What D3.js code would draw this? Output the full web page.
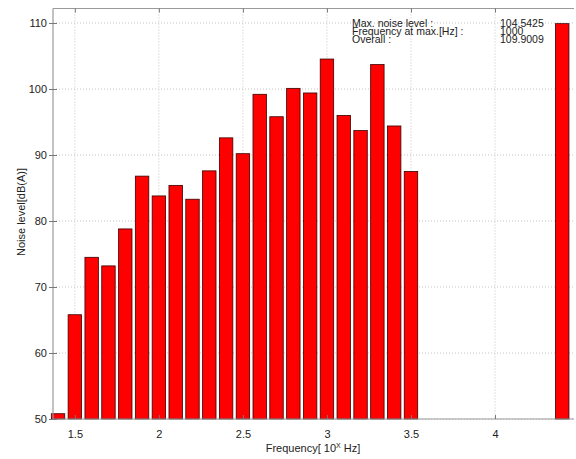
<!DOCTYPE html>
<html>
<head>
<meta charset="utf-8">
<script src="https://cdn.jsdelivr.net/npm/d3@7"></script>
<style>
  body { margin: 0; background: #fff; }
  svg text { font-family: "Liberation Sans", Arial, sans-serif; fill: #222; }
</style>
</head>
<body>
<svg id="chart" width="576" height="459"></svg>
<script>
// 1/3-octave band centres (log10 of Hz) and levels in dB(A)
const bandFreqs = [1.4, 1.5, 1.6, 1.7, 1.8, 1.9, 2.0, 2.1, 2.2, 2.3, 2.4,
                   2.5, 2.6, 2.7, 2.8, 2.9, 3.0, 3.1, 3.2, 3.3, 3.4, 3.5];
const bandLevels = [50.8, 65.8, 74.5, 73.2, 78.8, 86.8, 83.8, 85.4, 83.3, 87.6, 92.6,
                    90.2, 99.2, 95.8, 100.1, 99.4, 104.5425, 96.0, 93.7, 103.7, 94.4, 87.5];
const overallPos = 4.4;
const overallLevel = 109.9009;

const xTicks = [1.5, 2, 2.5, 3, 3.5, 4];
const yTicks = [50, 60, 70, 80, 90, 100, 110];

const infoLabels = ["Max. noise level :", "Frequency at max.[Hz] :", "Overall :"];
const infoValues = ["104.5425", "1000", "109.9009"];

const svg = d3.select("#chart");
const mLeft = 53, mRight = 574, mTop = 8.5, mBottom = 419;

const x = d3.scaleLinear().domain([1.37, 4.47]).range([mLeft, mRight]);
const y = d3.scaleLinear().domain([50, 112.2]).range([mBottom, mTop]);

const bars = bandFreqs.map((f, i) => ({ x: f, v: bandLevels[i] }));
bars.push({ x: overallPos, v: overallLevel });

// grid
const grid = svg.append("g").attr("stroke", "#c4c4c4").attr("stroke-dasharray", "1,2").attr("stroke-width", 1);
grid.selectAll(".gx").data(xTicks).enter().append("line")
    .attr("x1", d => x(d)).attr("x2", d => x(d))
    .attr("y1", mTop).attr("y2", mBottom);
grid.selectAll(".gy").data(yTicks).enter().append("line")
    .attr("x1", mLeft).attr("x2", mRight)
    .attr("y1", d => y(d)).attr("y2", d => y(d));

// bars
const bw = x(0.08) - x(0);
svg.selectAll(".bar").data(bars).enter().append("rect")
    .attr("x", d => x(d.x) - bw / 2)
    .attr("y", d => y(d.v))
    .attr("width", bw)
    .attr("height", d => y(50) - y(d.v))
    .attr("fill", "#ff0000")
    .attr("stroke", "#3a0000")
    .attr("stroke-width", 0.8);

// axes box (left, top, bottom)
const axisColor = "#9a9a9a";
svg.append("line").attr("x1", mLeft).attr("x2", mLeft).attr("y1", mTop).attr("y2", mBottom)
    .attr("stroke", axisColor).attr("stroke-width", 1.2);
svg.append("line").attr("x1", mLeft).attr("x2", mRight).attr("y1", mTop).attr("y2", mTop)
    .attr("stroke", axisColor).attr("stroke-width", 1.2);
svg.append("line").attr("x1", mLeft).attr("x2", mRight).attr("y1", mBottom).attr("y2", mBottom)
    .attr("stroke", axisColor).attr("stroke-width", 1.2);

// x axis ticks & labels
const xAxis = d3.axisBottom(x).tickValues(xTicks).tickSize(-4).tickPadding(11)
    .tickFormat(d => d3.format("")(d));
const gx = svg.append("g").attr("transform", `translate(0,${mBottom})`).call(xAxis);
gx.select(".domain").remove();
gx.selectAll("line").attr("stroke", "#777");
gx.selectAll("text").attr("font-size", 11).attr("fill", "#222");

const gxTop = svg.append("g").attr("transform", `translate(0,${mTop})`)
    .call(d3.axisTop(x).tickValues(xTicks).tickSize(-4).tickFormat(""));
gxTop.select(".domain").remove();
gxTop.selectAll("line").attr("stroke", "#777");

// y axis ticks & labels
const yAxis = d3.axisLeft(y).tickValues(yTicks).tickSize(4).tickPadding(3);
const gy = svg.append("g").attr("transform", `translate(${mLeft},0)`).call(yAxis);
gy.select(".domain").remove();
gy.selectAll("line").attr("stroke", "#777").attr("x2", 4).attr("x1", -4);
gy.selectAll("text").attr("font-size", 11).attr("fill", "#222").attr("x", -6);

// axis titles
svg.append("text")
    .attr("transform", "translate(25,212) rotate(-90)")
    .attr("text-anchor", "middle")
    .attr("font-size", 11)
    .text("Noise level[dB(A)]");

const xl = svg.append("text")
    .attr("x", 313).attr("y", 452)
    .attr("text-anchor", "middle")
    .attr("font-size", 11);
xl.append("tspan").text("Frequency[ 10");
xl.append("tspan").attr("font-size", 7).attr("dy", -4).text("X");
xl.append("tspan").attr("dy", 4).text(" Hz]");

// info text
svg.selectAll(".infoL").data(infoLabels).enter().append("text")
    .attr("x", 352).attr("y", (d, i) => 26.5 + i * 8.3)
    .attr("font-size", 10.5).text(d => d);
svg.selectAll(".infoV").data(infoValues).enter().append("text")
    .attr("x", 500).attr("y", (d, i) => 26.5 + i * 8.3)
    .attr("font-size", 10.5).text(d => d);
</script>
</body>
</html>
